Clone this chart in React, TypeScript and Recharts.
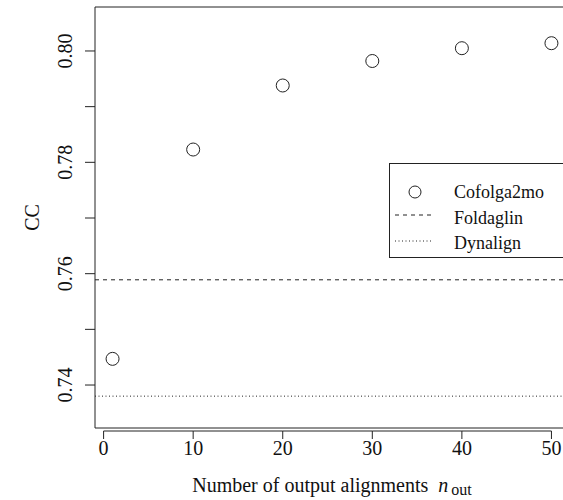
import React from 'react';
import {
  ComposedChart,
  Scatter,
  XAxis,
  YAxis,
  ReferenceLine,
  ReferenceArea,
  Legend,
  Label,
} from 'recharts';

// ---- data ----
const nOut = [1, 10, 20, 30, 40, 50];
const cofolga2moCC = [0.7447, 0.7823, 0.7938, 0.7982, 0.8005, 0.8014];
const foldaglinCC = [0.7589];
const dynalignCC = [0.738];
const xTicks = [0, 10, 20, 30, 40, 50];
const yTicks = [0.74, 0.75, 0.76, 0.77, 0.78, 0.79, 0.8];
const yTickLabels = ['0.74', '', '0.76', '', '0.78', '', '0.80'];
const seriesNames = ['Cofolga2mo', 'Foldaglin', 'Dynalign'];

const X_DOMAIN: [number, number] = [-0.96, 51.96];
const Y_DOMAIN: [number, number] = [0.73228, 0.8079];

const data = nOut.map((n, i) => ({ n, cc: cofolga2moCC[i] }));

// ---- layout / style ----
const INK = '#222';
const FONT = '"Liberation Serif", "Times New Roman", serif';
const FS = 20;
const CHART_W = 600;
const CHART_H = 500;
const MARGIN = { top: 7, right: 31, bottom: 0, left: 0 };
const Y_AXIS_W = 95;
const X_AXIS_H = 72;
const PLOT_W = CHART_W - MARGIN.left - MARGIN.right - Y_AXIS_W;
const X_STEP_PX = ((xTicks[1] - xTicks[0]) * PLOT_W) / (X_DOMAIN[1] - X_DOMAIN[0]);

const XTick = (props: any) => {
  const { x, y, payload, index } = props;
  return (
    <g>
      <line x1={x} x2={x} y1={y + 3} y2={y + 11} stroke={INK} strokeWidth={1} />
      {index < xTicks.length - 1 && (
        <line x1={x} x2={x + X_STEP_PX} y1={y + 3} y2={y + 3} stroke={INK} strokeWidth={1} />
      )}
      <text x={x} y={y + 27} textAnchor="middle" fontFamily={FONT} fontSize={FS} fill="#111">
        {payload.value}
      </text>
    </g>
  );
};

const YTick = (props: any) => {
  const { x, y, index } = props;
  const label = yTickLabels[index];
  return (
    <g>
      <line x1={x - 10} x2={x} y1={y} y2={y} stroke={INK} strokeWidth={1} />
      {label ? (
        <text
          transform={`translate(${x - 23},${y}) rotate(-90)`}
          textAnchor="middle"
          fontFamily={FONT}
          fontSize={FS}
          fill="#111"
        >
          {label}
        </text>
      ) : null}
    </g>
  );
};

const XTitle = (props: any) => {
  const vb = props.viewBox;
  const cx = vb.x + vb.width / 2;
  return (
    <text x={cx} y={vb.y + 64} textAnchor="middle" fontFamily={FONT} fontSize={FS} fill="#111">
      <tspan>Number of output alignments</tspan>
      <tspan fontStyle="italic" dx={10}>n</tspan>
      <tspan fontSize={16} dx={3} dy={3}>out</tspan>
    </text>
  );
};

const YTitle = (props: any) => {
  const vb = props.viewBox;
  const cy = vb.y + vb.height / 2;
  return (
    <text
      transform={`translate(39,${cy}) rotate(-90)`}
      textAnchor="middle"
      fontFamily={FONT}
      fontSize={FS}
      fill="#111"
    >
      CC
    </text>
  );
};

const LegendBox = () => (
  <svg width={200} height={96} style={{ display: 'block' }}>
    <rect x={0.5} y={0.5} width={250} height={94} fill="#fff" stroke={INK} strokeWidth={1} />
    <circle cx={26} cy={29} r={6} fill="none" stroke={INK} strokeWidth={1} />
    <line x1={6} x2={44} y1={52} y2={52} stroke={INK} strokeDasharray="4 4" />
    <line x1={6} x2={44} y1={78} y2={78} stroke={INK} strokeDasharray="1 2.5" />
    {seriesNames.map((name, i) => (
      <text
        key={name}
        x={65}
        y={35 + i * 25.5}
        fontFamily={FONT}
        fontSize={18}
        fill="#111"
      >
        {name}
      </text>
    ))}
  </svg>
);

const CircleShape = (p: any) => (
  <circle cx={p.cx} cy={p.cy} r={6.5} fill="none" stroke={INK} strokeWidth={1} />
);

export default function App() {
  return (
    <div
      style={{
        position: 'absolute',
        left: 0,
        top: 0,
        width: 563,
        height: 500,
        overflow: 'hidden',
        background: '#fff',
      }}
    >
      <ComposedChart width={CHART_W} height={CHART_H} data={data} margin={MARGIN}>
        <XAxis
          dataKey="n"
          type="number"
          domain={X_DOMAIN}
          ticks={xTicks}
          height={X_AXIS_H}
          axisLine={false}
          tickLine={false}
          tickSize={0}
          tickMargin={0}
          tick={<XTick />}
          interval={0}
        >
          <Label content={<XTitle />} />
        </XAxis>
        <YAxis
          dataKey="cc"
          type="number"
          domain={Y_DOMAIN}
          ticks={yTicks}
          width={Y_AXIS_W}
          axisLine={false}
          tickLine={false}
          tickSize={0}
          tickMargin={0}
          tick={<YTick />}
          interval={0}
        >
          <Label content={<YTitle />} />
        </YAxis>
        <ReferenceArea
          x1={X_DOMAIN[0]}
          x2={X_DOMAIN[1]}
          y1={Y_DOMAIN[0]}
          y2={Y_DOMAIN[1]}
          fill="none"
          fillOpacity={0}
          stroke={INK}
          strokeWidth={1}
        />
        <ReferenceLine y={foldaglinCC[0]} stroke={INK} strokeWidth={1} strokeDasharray="4 4" />
        <ReferenceLine y={dynalignCC[0]} stroke={INK} strokeWidth={1} strokeDasharray="1 2.5" />
        <Scatter
          name={seriesNames[0]}
          dataKey="cc"
          isAnimationActive={false}
          shape={<CircleShape />}
        />
        <Legend
          layout="vertical"
          align="center"
          verticalAlign="middle"
          content={<LegendBox />}
          wrapperStyle={{ position: 'absolute', left: 389, top: 163, width: 200, height: 96 }}
        />
      </ComposedChart>
    </div>
  );
}
